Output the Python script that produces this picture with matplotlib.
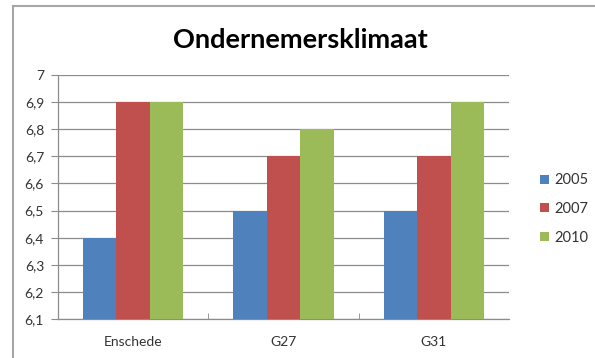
import matplotlib
matplotlib.use("Agg")
import matplotlib.pyplot as plt
import numpy as np
from matplotlib.lines import Line2D
from matplotlib.ticker import FuncFormatter

plt.rcParams['font.family'] = ['Lato', 'DejaVu Sans']

categories = ["Enschede", "G27", "G31"]
years = ["2005", "2007", "2010"]
scores_2005 = [6.4, 6.5, 6.5]
scores_2007 = [6.9, 6.7, 6.7]
scores_2010 = [6.9, 6.8, 6.9]
colors = ["#4F81BD", "#C0504D", "#9BBB59"]
label_color = "#333333"

fig = plt.figure(figsize=(5.95, 3.58), dpi=100)
ax = fig.add_axes([58 / 595, 1 - 319 / 358, 451 / 595, 244 / 358])

x = np.arange(len(categories))
width = 1 / 4.5
series = [scores_2005, scores_2007, scores_2010]
bottom = 6.1
for i, (vals, col, yr) in enumerate(zip(series, colors, years)):
    heights = [v - bottom for v in vals]
    ax.bar(x + (i - 1) * width, heights, width, bottom=bottom, color=col,
           label=yr, zorder=3)

ax.set_xlim(-0.5, 2.5)
ax.set_ylim(6.1, 7.0)
ax.set_yticks(np.arange(6.1, 7.01, 0.1))
ax.yaxis.set_major_formatter(FuncFormatter(lambda v, p: f"{v:.1f}".replace(".", ",").replace(",0", "")))
ax.grid(axis="y", color="#8c8c8c", linewidth=0.9, zorder=0)
ax.set_xticks(x)
ax.set_xticklabels(categories)
ax.set_xticks([0.5, 1.5], minor=True)
ax.tick_params(axis="x", which="major", length=0, pad=12, labelsize=10, labelcolor=label_color)
ax.tick_params(axis="x", which="minor", length=4, color="#8c8c8c", direction="in")
ax.tick_params(axis="y", length=5, color="#8c8c8c", pad=5, labelsize=10, labelcolor=label_color)

for s in ["top", "right"]:
    ax.spines[s].set_visible(False)
for s in ["left", "bottom"]:
    ax.spines[s].set_color("#8c8c8c")
    ax.spines[s].set_linewidth(0.9)

fig.text(300 / 595, 1 - 40 / 358, "Ondernemersklimaat", ha="center", va="center",
         fontsize=19.5, fontweight="bold", color="black")

leg = fig.legend(loc="center left", bbox_to_anchor=(527 / 595, 1 - 209 / 358),
                 frameon=False, fontsize=10.5, handlelength=0.6, handleheight=0.6,
                 handletextpad=0.4, labelspacing=1.0)
for t in leg.get_texts():
    t.set_color(label_color)

# chart frame (left and top edges)
fig.add_artist(Line2D([13 / 595, 13 / 595], [0, 1 - 6 / 358], color="#a6a6a6",
                      linewidth=1.5, transform=fig.transFigure))
fig.add_artist(Line2D([13 / 595, 1], [1 - 6 / 358, 1 - 6 / 358], color="#a6a6a6",
                      linewidth=1.5, transform=fig.transFigure))

fig.savefig("out.png", dpi=100)
